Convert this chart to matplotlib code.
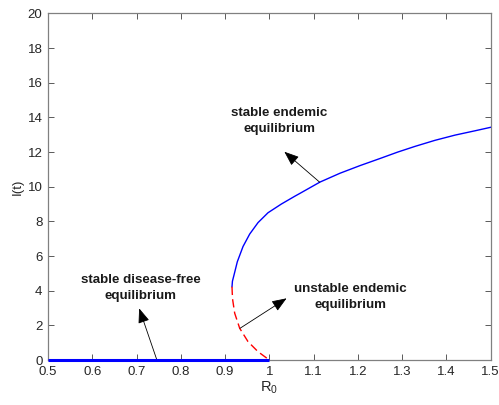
import matplotlib
matplotlib.use("Agg")
import matplotlib.pyplot as plt

plt.rcParams['font.family'] = ['Liberation Sans', 'DejaVu Sans']

# disease-free branch
r0_dfe = [0.5, 1.0]
i_dfe = [0.0, 0.0]

# stable endemic branch
r0_stable = [0.9157, 0.9167, 0.9202, 0.9277, 0.9406, 0.9557, 0.9745, 0.9971,
             1.0271, 1.0574, 1.0694, 1.1145, 1.1597, 1.2049, 1.2501, 1.2900,
             1.3292, 1.3744, 1.4196, 1.4648, 1.5]
i_stable = [4.23, 4.55, 4.90, 5.67, 6.55, 7.27, 7.93, 8.50,
            9.00, 9.45, 9.62, 10.27, 10.78, 11.22, 11.63, 12.00,
            12.33, 12.68, 12.98, 13.23, 13.43]

# unstable endemic branch
r0_unstable = [0.9157, 0.9163, 0.9173, 0.9218, 0.9331, 0.9519, 0.9745, 1.0]
i_unstable = [4.23, 3.85, 3.46, 2.70, 1.83, 1.06, 0.48, 0.0]

xticks = [0.5, 0.6, 0.7, 0.8, 0.9, 1, 1.1, 1.2, 1.3, 1.4, 1.5]
xticklabels = ['0.5', '0.6', '0.7', '0.8', '0.9', '1', '1.1', '1.2', '1.3', '1.4', '1.5']
yticks = list(range(0, 21, 2))

fig = plt.figure(figsize=(4.99, 4.05), dpi=100)
ax = fig.add_axes([0.0962, 0.1111, 0.8870, 0.8556])

ax.plot(r0_stable, i_stable, color='#0000ff', lw=1.0)
ax.plot(r0_unstable, i_unstable, color='#ff0000', lw=1.0, dashes=(6, 3))
ax.plot(r0_dfe, i_dfe, color='#0000ff', lw=2.2, clip_on=False, zorder=5,
        solid_capstyle='butt')

ax.set_xlim(0.5, 1.5)
ax.set_ylim(0, 20)
ax.set_xticks(xticks)
ax.set_xticklabels(xticklabels)
ax.set_yticks(yticks)

gray = '#262626'
for sp in ax.spines.values():
    sp.set_color('#808080')
    sp.set_linewidth(0.9)
ax.tick_params(direction='in', top=True, right=True, length=4, width=0.6,
               color='#404040', labelsize=9.5, labelcolor=gray, pad=4)

ax.set_xlabel('R$_{\\mathregular{0}}$', fontsize=10.5, color=gray, labelpad=1)
ax.set_ylabel('I(t)', fontsize=9.5, color=gray, labelpad=3)

arw = dict(arrowstyle='-|>,head_length=0.9,head_width=0.35', color='black',
           lw=0.6, mutation_scale=10, shrinkA=0, shrinkB=0)

ax.annotate('', xy=(1.034, 12.02), xytext=(1.1139, 10.26), arrowprops=arw)
ax.annotate('', xy=(0.706, 2.98), xytext=(0.746, 0.0), arrowprops=arw)
ax.annotate('', xy=(1.039, 3.56), xytext=(0.9338, 1.83), arrowprops=arw)

tkw = dict(fontsize=9.6, fontweight='bold', ha='center', va='center',
           color='#1a1a1a', linespacing=1.45)
ax.text(1.023, 13.79, 'stable endemic\nequilibrium', **tkw)
ax.text(0.709, 4.18, 'stable disease-free\nequilibrium', **tkw)
ax.text(1.1834, 3.64, 'unstable endemic\nequilibrium', **tkw)

fig.savefig('out.png', dpi=100)
